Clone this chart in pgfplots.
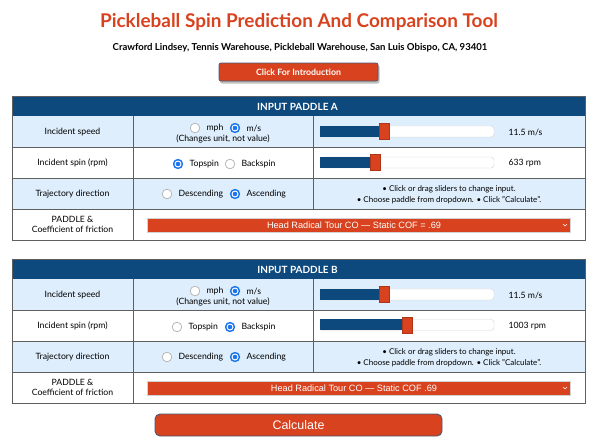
\documentclass[border=0pt]{standalone}
\usepackage{pgfplots}
\pgfplotsset{compat=1.18}
\usepackage{fontspec}
\setmainfont{Lato}
\newfontfamily\helv{Liberation Sans}

\definecolor{tred}{RGB}{216,66,30}
\definecolor{navy}{RGB}{13,73,125}
\definecolor{rowblue}{RGB}{222,238,252}
\definecolor{rblue}{RGB}{28,117,236}
\definecolor{gridc}{RGB}{95,95,95}
\definecolor{btnedge}{RGB}{70,90,115}

% slider thumb, 10 x 16 px
\pgfdeclareplotmark{thumb}{%
  \pgfpathrectangle{\pgfpoint{-5bp}{-8bp}}{\pgfpoint{10bp}{16bp}}%
  \pgfusepathqfillstroke}

\newcommand\radio[3]{% x, y, selected
  \ifnum#3=1
    \fill[rblue] (#1,#2) circle[radius=5.2bp];
    \fill[white] (#1,#2) circle[radius=3.5bp];
    \fill[rblue] (#1,#2) circle[radius=2.3bp];
  \else
    \filldraw[fill=white, draw=gray!60, line width=0.7bp] (#1,#2) circle[radius=4.8bp];
  \fi}

\newcommand\txt{\fontsize{8.7}{10}\selectfont}

% table frame, #1 = top y in px
\newcommand\panelframe[2]{%
  \fill[rowblue] (12,{#1+20}) rectangle (585,{#1+51});
  \fill[rowblue] (12,{#1+82}) rectangle (585,{#1+113});
  \fill[navy] (12,#1) rectangle (585,{#1+20});
  \node[white, font=\fontsize{10}{11}\selectfont\bfseries] at (297.5,{#1+10.5}) {#2};
  \draw[gridc, line width=0.6bp] (12,{#1+51}) -- (585,{#1+51});
  \draw[gridc, line width=0.6bp] (12,{#1+82}) -- (585,{#1+82});
  \draw[gridc, line width=0.6bp] (12,{#1+113}) -- (585,{#1+113});
  \draw[gridc, line width=0.6bp] (133,{#1+20}) -- (133,{#1+144});
  \draw[gridc, line width=0.6bp] (313,{#1+20}) -- (313,{#1+113});
  \draw[gridc, line width=0.8bp] (12,#1) rectangle (585,{#1+144});
  \node[font=\txt] at (72.5,{#1+36}) {Incident speed};
  \node[font=\txt] at (72.5,{#1+67}) {Incident spin (rpm)};
  \node[font=\txt] at (72.5,{#1+98}) {Trajectory direction};
  \node[font=\txt, align=center] at (72.5,{#1+128.5}) {PADDLE \&\\Coefficient of friction};
  % speed units
  \radio{195}{#1+32}{0}
  \node[font=\txt, anchor=west] at (203,{#1+32}) {mph};
  \radio{235}{#1+32}{1}
  \node[font=\txt, anchor=west] at (243,{#1+32}) {m/s};
  \node[font=\txt] at (223,{#1+43}) {(Changes unit, not value)};
  % direction
  \radio{167}{#1+98}{0}
  \node[font=\txt, anchor=west] at (175,{#1+98}) {Descending};
  \radio{235}{#1+98}{1}
  \node[font=\txt, anchor=west] at (243,{#1+98}) {Ascending};
  % hints
  \node[font=\fontsize{8}{9.5}\selectfont] at (449,{#1+93}) {\textbullet\ Click or drag sliders to change input.};
  \node[font=\fontsize{8}{9.5}\selectfont] at (449,{#1+104}) {\textbullet\ Choose paddle from dropdown. \textbullet\ Click "Calculate".};
}

\newcommand\dropdown[2]{% top y, text
  \filldraw[fill=tred, draw=gray!35, line width=0.6bp] (147,#1) rectangle (570,{#1+14});
  \node[white, font=\helv\fontsize{9.2}{10}\selectfont] at (354,{#1+7}) {#2};
  \draw[white, line width=0.5bp] (563,{#1+6}) -- (565,{#1+8}) -- (567,{#1+6});
}

% slider: y of centre (from bottom, bp), value, max
\newcommand\slider[3]{%
  \begin{axis}[at={(320bp,#1bp)}, anchor=west, width=174bp, height=11bp,
    scale only axis, xmin=0, xmax=#3, ymin=0, ymax=1, hide axis, clip=false]
    \filldraw[fill=white, draw=gray!35, rounded corners=3bp]
      (rel axis cs:0,0) rectangle (rel axis cs:1,1);
    \addplot[xbar, bar width=11bp, bar shift=0pt, fill=navy, draw=none]
      coordinates {(#2,0.5)};
    \addplot[only marks, mark=thumb, mark options={fill=tred, draw=tred!80!black, line width=0.4bp}]
      coordinates {(#2,0.5)};
  \end{axis}}

\begin{document}
\begin{tikzpicture}
\useasboundingbox (0,0) rectangle (600bp,440bp);
\begin{axis}[at={(0,0)}, anchor=south west, width=600bp, height=440bp,
  scale only axis, xmin=0, xmax=600, ymin=0, ymax=440, y dir=reverse,
  hide axis, clip=false]

\node[tred, font=\fontsize{19}{23}\selectfont\bfseries] at (299,22)
  {Pickleball Spin Prediction And Comparison Tool};
\node[font=\fontsize{9.6}{11}\selectfont\bfseries] at (300,48)
  {Crawford Lindsey, Tennis Warehouse, Pickleball Warehouse, San Luis Obispo, CA, 93401};

% intro button
\fill[black!25, rounded corners=2bp] (220,65) rectangle (379.5,83.5);
\filldraw[fill=tred, draw=btnedge, line width=0.7bp, rounded corners=2bp] (219,63) rectangle (378,81);
\node[white, font=\fontsize{8.8}{10}\selectfont\bfseries] at (298.5,72) {Click For Introduction};

% paddle A
\panelframe{96}{INPUT PADDLE A}
\radio{178}{164}{1}
\node[font=\txt, anchor=west] at (186,164) {Topspin};
\radio{230}{164}{0}
\node[font=\txt, anchor=west] at (238,164) {Backspin};
\node[font=\txt, anchor=west] at (505,132) {11.5 m/s};
\node[font=\txt, anchor=west] at (505,163) {633 rpm};
\dropdown{218}{Head Radical Tour CO — Static COF = .69}

% paddle B
\panelframe{259}{INPUT PADDLE B}
\radio{177}{327}{0}
\node[font=\txt, anchor=west] at (185,327) {Topspin};
\radio{230}{327}{1}
\node[font=\txt, anchor=west] at (238,327) {Backspin};
\node[font=\txt, anchor=west] at (505,295) {11.5 m/s};
\node[font=\txt, anchor=west] at (505,326) {1003 rpm};
\dropdown{381}{Head Radical Tour CO — Static COF .69}

% calculate button
\filldraw[fill=tred, draw=btnedge, line width=0.9bp, rounded corners=5bp] (155,414) rectangle (442,436);
\node[white, font=\helv\fontsize{12.5}{14}\selectfont] at (298.5,425) {Calculate};
\end{axis}

% sliders: incident speed (m/s) and spin (rpm)
\slider{308.5}{11.5}{31}
\slider{277.5}{633}{2000}
\slider{145.5}{11.5}{31}
\slider{115}{1003}{2000}
\end{tikzpicture}
\end{document}
